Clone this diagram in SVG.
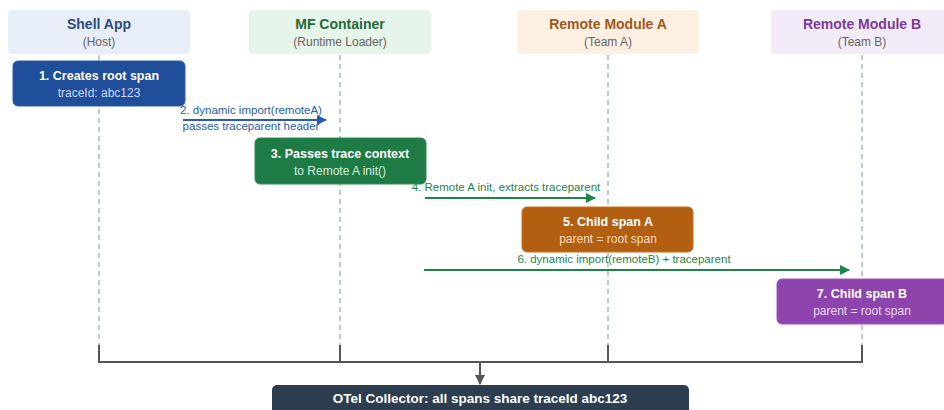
<svg xmlns="http://www.w3.org/2000/svg" width="944" height="410" viewBox="0 0 944 410">
<defs>
<style>
text{font-family:"Liberation Sans",Arial,sans-serif;text-anchor:middle}
.ht{font-size:14px;font-weight:bold}
.hs{font-size:12px;fill:#666}
.life{stroke:#a9b8cc;stroke-width:1.5;stroke-dasharray:5 4;fill:none}
.nt{font-size:12.5px;font-weight:bold;fill:#fff}
.ns{font-size:12px}
.lbl{font-size:11.5px}
.br{stroke:#555;stroke-width:2;fill:none}
</style>
<marker id="ab" viewBox="0 0 10 10" refX="9" refY="5" markerWidth="6" markerHeight="5" orient="auto" markerUnits="strokeWidth"><path d="M0,0L10,5L0,10z" fill="#2a5caa"/></marker>
<marker id="ag" viewBox="0 0 10 10" refX="9" refY="5" markerWidth="6" markerHeight="5" orient="auto" markerUnits="strokeWidth"><path d="M0,0L10,5L0,10z" fill="#1e8449"/></marker>
<marker id="ad" viewBox="0 0 10 10" refX="9" refY="5" markerWidth="5" markerHeight="5" orient="auto" markerUnits="strokeWidth"><path d="M0,0L10,5L0,10z" fill="#555"/></marker>
</defs>
<rect width="944" height="410" fill="#fff"/>

<g id="lifelines">
<line class="life" x1="99" y1="55" x2="99" y2="345"/>
<line class="life" x1="340" y1="55" x2="340" y2="345"/>
<line class="life" x1="608" y1="55" x2="608" y2="345"/>
<line class="life" x1="862" y1="55" x2="862" y2="345"/>
</g>

<g id="hdr-shell">
<rect x="8" y="10" width="182" height="44" rx="4" fill="#e8eef8"/>
<text class="ht" x="99" y="29" fill="#2c4a7c">Shell App</text>
<text class="hs" x="99" y="46">(Host)</text>
</g>
<g id="hdr-mf">
<rect x="249" y="10" width="182" height="44" rx="4" fill="#e6f4ea"/>
<text class="ht" x="340" y="29" fill="#1e6b3a">MF Container</text>
<text class="hs" x="340" y="46">(Runtime Loader)</text>
</g>
<g id="hdr-a">
<rect x="517" y="10" width="182" height="44" rx="4" fill="#fdf0e3"/>
<text class="ht" x="608" y="29" fill="#a0581a">Remote Module A</text>
<text class="hs" x="608" y="46">(Team A)</text>
</g>
<g id="hdr-b">
<rect x="771" y="10" width="182" height="44" rx="4" fill="#f3ecf8"/>
<text class="ht" x="862" y="29" fill="#7b3a9c">Remote Module B</text>
<text class="hs" x="862" y="46">(Team B)</text>
</g>

<g id="connectors">
<line x1="183" y1="120" x2="326" y2="120" stroke="#2a5caa" stroke-width="2" marker-end="url(#ab)"/>
<text class="lbl" x="251" y="114" fill="#2a5caa">2. dynamic import(remoteA)</text>
<text class="lbl" x="251" y="130" fill="#2a5caa">passes traceparent header</text>
<line x1="425" y1="198" x2="595" y2="198" stroke="#1e8449" stroke-width="2" marker-end="url(#ag)"/>
<text class="lbl" x="506" y="191" fill="#1e8449">4. Remote A init, extracts traceparent</text>
<line x1="424" y1="270" x2="849" y2="270" stroke="#1e8449" stroke-width="2" marker-end="url(#ag)"/>
<text class="lbl" x="624" y="263" fill="#1e8449">6. dynamic import(remoteB) + traceparent</text>
<path class="br" d="M99,345V362H862V345M340,345V362M608,345V362"/>
<line x1="480" y1="362" x2="480" y2="384" stroke="#555" stroke-width="2" marker-end="url(#ad)"/>
</g>

<g id="n1">
<rect x="13" y="61" width="172" height="45" rx="5" fill="#1f4e9a" stroke="#2d5fb0"/>
<text class="nt" x="99" y="80">1. Creates root span</text>
<text class="ns" x="99" y="97" fill="#c8d8f0">traceId: abc123</text>
</g>
<g id="n3">
<rect x="255" y="138" width="171" height="46" rx="5" fill="#1e7b45" stroke="#2a9055"/>
<text class="nt" x="340" y="158">3. Passes trace context</text>
<text class="ns" x="340" y="175" fill="#d4f0dc">to Remote A init()</text>
</g>
<g id="n5">
<rect x="522" y="207" width="171" height="45" rx="5" fill="#b35f12" stroke="#c87020"/>
<text class="nt" x="608" y="226">5. Child span A</text>
<text class="ns" x="608" y="243" fill="#f8dcc0">parent = root span</text>
</g>
<g id="n7">
<rect x="777" y="279" width="171" height="45" rx="5" fill="#8e44ad" stroke="#9d55bc"/>
<text class="nt" x="862" y="298">7. Child span B</text>
<text class="ns" x="862" y="315" fill="#ecd8f4">parent = root span</text>
</g>
<g id="collector">
<rect x="272" y="385" width="417" height="34" rx="5" fill="#2c3e50"/>
<text x="480" y="403" font-size="13.5" font-weight="bold" fill="#fff">OTel Collector: all spans share traceId abc123</text>
</g>
</svg>
